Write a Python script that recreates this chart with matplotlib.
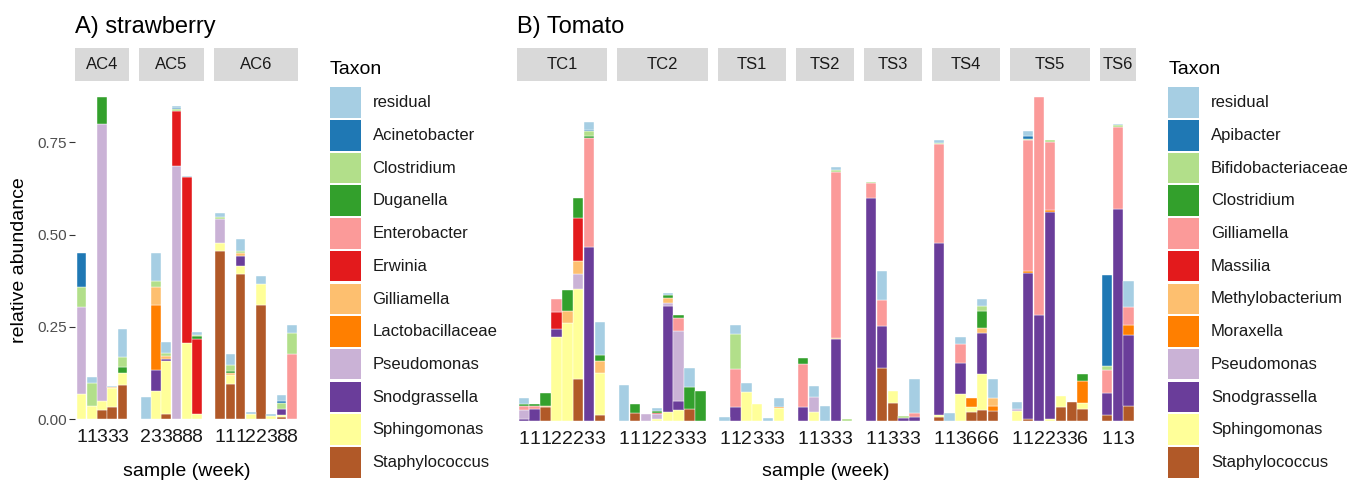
import numpy as np
import matplotlib.pyplot as plt
from matplotlib.patches import Rectangle

plt.rcParams['font.family'] = ['Liberation Sans', 'DejaVu Sans']

# ColorBrewer "Paired", one colour per legend entry (top to bottom)
paired = ['#A6CEE3', '#1F78B4', '#B2DF8A', '#33A02C', '#FB9A99', '#E31A1C',
          '#FDBF6F', '#FF7F00', '#CAB2D6', '#6A3D9A', '#FFFF99', '#B15928']

# ---- strawberry ----
straw_sites = ['AC4', 'AC5', 'AC6']
straw_weeks = [[1, 1, 3, 3, 3], [2, 3, 3, 8, 8, 8], [1, 1, 1, 2, 2, 3, 8, 8]]
straw_taxa = ['residual', 'Acinetobacter', 'Clostridium', 'Duganella', 'Enterobacter',
              'Erwinia', 'Gilliamella', 'Lactobacillaceae', 'Pseudomonas',
              'Snodgrassella', 'Sphingomonas', 'Staphylococcus']
s_residual = [0, .015, 0, .004, .075,  .061, .077, .029, .005, .004, .009,  .011, .030, .032, .004, .023, .004, .016, .021]
s_acinetobacter = [.091, 0, 0, 0, 0,  0, 0, 0, .003, 0, 0,  0, 0, 0, 0, 0, 0, .004, 0]
s_clostridium = [.056, .063, 0, 0, .027,  0, .014, .009, .004, 0, .004,  .005, .018, .005, 0, 0, 0, .016, .057]
s_duganella = [0, 0, .074, 0, .018,  0, 0, 0, 0, 0, .007,  0, .005, 0, 0, 0, 0, 0, 0]
s_enterobacter = [0, 0, 0, 0, 0,  0, 0, 0, 0, 0, 0,  0, 0, 0, 0, 0, 0, 0, .176]
s_erwinia = [0, 0, 0, 0, 0,  0, 0, 0, .149, .450, .203,  0, 0, 0, 0, 0, 0, 0, 0]
s_gilliamella = [0, 0, 0, .002, 0,  0, .051, .006, 0, 0, 0,  0, .004, .009, .002, 0, 0, 0, 0]
s_lactobacillaceae = [0, 0, 0, 0, 0,  0, .176, 0, 0, 0, 0,  0, 0, 0, 0, 0, 0, 0, 0]
s_pseudomonas = [.234, 0, .750, 0, 0,  0, 0, 0, .687, 0, 0,  .065, 0, 0, 0, 0, 0, 0, 0]
s_snodgrassella = [0, 0, 0, 0, 0,  0, .057, .007, 0, 0, 0,  0, 0, .027, 0, 0, 0, .018, 0]
s_sphingomonas = [.069, .036, .025, .052, .032,  0, .075, .143, 0, .206, .014,  .023, .024, .020, .013, .058, .009, .005, 0]
s_staphylococcus = [0, 0, .024, .032, .092,  0, 0, .014, 0, 0, 0,  .455, .096, .394, 0, .308, 0, .005, 0]

# ---- tomato ----
tom_sites = ['TC1', 'TC2', 'TS1', 'TS2', 'TS3', 'TS4', 'TS5', 'TS6']
tom_weeks = [[1, 1, 1, 2, 2, 2, 3, 3], [1, 1, 1, 2, 2, 3, 3, 3], [1, 1, 2, 3, 3, 3],
             [1, 1, 3, 3, 3], [1, 1, 3, 3, 3], [1, 1, 3, 6, 6, 6],
             [1, 1, 2, 2, 3, 3, 6], [1, 1, 3]]
tom_taxa = ['residual', 'Apibacter', 'Bifidobacteriaceae', 'Clostridium', 'Gilliamella',
            'Massilia', 'Methylobacterium', 'Moraxella', 'Pseudomonas',
            'Snodgrassella', 'Sphingomonas', 'Staphylococcus']
t_residual = [.016, 0, 0, 0, 0, 0, .021, .091,  .097, 0, 0, .008, .005, 0, .052, 0,
              .011, .025, .024, 0, .008, .024,  0, .032, .041, .008, 0,  0, .079, 0, 0, .091,
              .009, .021, .019, 0, .019, .053,  .019, .014, 0, 0, 0, 0, 0,  0, .004, .071]
t_apibacter = [0, 0, 0, 0, 0, 0, .003, 0,  0, 0, 0, 0, 0, 0, 0, 0,
               0, 0, 0, 0, 0, 0,  0, 0, 0, 0, 0,  0, 0, 0, 0, 0,
               0, 0, 0, 0, 0, 0,  0, .007, 0, 0, 0, 0, 0,  .246, 0, 0]
t_bifido = [0, 0, 0, 0, 0, 0, .012, 0,  0, 0, 0, 0, 0, 0, 0, 0,
            0, .095, 0, 0, 0, 0,  0, 0, 0, .005, .006,  .004, 0, 0, .004, 0,
            .004, 0, 0, 0, .014, 0,  0, .004, 0, .005, 0, 0, 0,  .011, .006, 0]
t_clostridium = [.006, .005, .034, 0, .057, .056, .006, .015,  0, .024, 0, .005, .009, .009, .059, .081,
                 0, 0, 0, 0, 0, 0,  .016, 0, 0, 0, 0,  0, 0, 0, 0, 0,
                 0, 0, 0, 0, .048, 0,  0, 0, 0, 0, 0, 0, .018,  0, 0, 0]
t_gilliamella = [.011, .009, 0, .034, 0, 0, .297, 0,  0, 0, 0, 0, 0, .035, 0, 0,
                 0, .103, 0, 0, 0, 0,  .118, 0, 0, .450, 0,  .039, .071, 0, 0, .012,
                 .268, 0, .050, 0, 0, 0,  0, .354, .590, .184, 0, 0, 0,  .061, .220, .048]
t_massilia = [0, 0, 0, .047, 0, .115, 0, 0,  0, 0, 0, .005, 0, 0, 0, 0,
              0, 0, 0, 0, 0, 0,  0, 0, 0, 0, 0,  0, 0, 0, 0, 0,
              0, 0, 0, 0, 0, 0,  0, 0, 0, 0, 0, 0, 0,  0, 0, 0]
t_methylo = [0, 0, .004, 0, .032, .036, 0, .032,  0, 0, 0, 0, .014, 0, 0, 0,
             0, 0, 0, 0, 0, 0,  0, 0, 0, .003, 0,  0, 0, 0, 0, 0,
             0, 0, 0, 0, .013, .019,  0, 0, 0, 0, 0, 0, 0,  0, 0, 0]
t_moraxella = [0, 0, 0, 0, 0, 0, 0, 0,  0, 0, 0, 0, 0, 0, 0, 0,
               0, 0, 0, 0, 0, .004,  0, 0, 0, 0, 0,  0, 0, 0, 0, 0,
               0, 0, 0, .024, 0, .014,  0, .007, 0, .007, 0, 0, .061,  0, 0, .028]
t_pseudomonas = [.024, 0, 0, 0, 0, .042, 0, 0,  0, 0, .018, .013, .007, .189, 0, 0,
                 0, 0, 0, 0, 0, 0,  0, .040, 0, 0, 0,  0, 0, 0, 0, 0,
                 0, 0, 0, 0, 0, 0,  .005, 0, 0, 0, 0, 0, 0,  0, 0, 0]
t_snodgrassella = [.005, .033, 0, .020, 0, 0, .471, 0,  0, 0, 0, 0, .288, .024, 0, 0,
                   0, .037, 0, 0, 0, 0,  .037, 0, 0, .223, 0,  .606, .113, 0, .009, .011,
                   .467, 0, .085, 0, .111, 0,  0, .395, .288, .561, 0, 0, 0,  .062, .576, .191]
t_sphingomonas = [0, 0, 0, .229, .265, .244, 0, .116,  0, 0, 0, .005, .024, .030, 0, 0,
                  0, 0, .079, .047, 0, .035,  0, .024, 0, 0, 0,  0, 0, .032, 0, 0,
                  .003, 0, .073, .014, .097, 0,  .028, 0, 0, .005, .029, 0, .015,  0, 0, 0]
t_staphylococcus = [0, 0, .037, 0, 0, .113, 0, .015,  0, .021, 0, 0, 0, 0, .032, 0,
                    0, 0, 0, 0, 0, 0,  0, 0, 0, 0, 0,  0, .145, .048, 0, 0,
                    .012, 0, 0, .024, .030, .028,  0, .005, 0, 0, .039, .051, .033,  .015, 0, .041]

straw_values = [s_residual, s_acinetobacter, s_clostridium, s_duganella, s_enterobacter,
                s_erwinia, s_gilliamella, s_lactobacillaceae, s_pseudomonas,
                s_snodgrassella, s_sphingomonas, s_staphylococcus]
tom_values = [t_residual, t_apibacter, t_bifido, t_clostridium, t_gilliamella,
              t_massilia, t_methylo, t_moraxella, t_pseudomonas,
              t_snodgrassella, t_sphingomonas, t_staphylococcus]

W, H = 1347, 484
fig = plt.figure(figsize=(W / 100, H / 100), dpi=100)

overlay = fig.add_axes([0, 0, 1, 1])
overlay.set_xlim(0, W)
overlay.set_ylim(H, 0)
overlay.axis('off')


def box(x0, y0, x1, y1):
    # axes placed by pixel edges, y measured from the top
    return fig.add_axes([x0 / W, 1 - y1 / H, (x1 - x0) / W, (y1 - y0) / H])


PX_PER_UNIT = 368.8
TOP = 81
GAP = 10


def facet_plot(sites, weeks, values, x_left, x_right, show_y):
    values = np.array(values)
    ymax = values.sum(axis=0).max() * 1.05
    bottom_px = TOP + ymax * PX_PER_UNIT
    counts = [len(w) for w in weeks]
    unit = (x_right - x_left - GAP * (len(sites) - 1)) / (sum(counts) + 0.3 * len(sites))
    x = x_left
    start = 0
    for k, (site, wk) in enumerate(zip(sites, weeks)):
        n = len(wk)
        w = unit * (n + 0.3)
        ax = box(x, TOP, x + w, bottom_px)
        pos = np.arange(n)
        cum = np.zeros(n)
        # stack from the last legend entry upwards
        for i in range(len(values) - 1, -1, -1):
            v = values[i, start:start + n]
            m = v > 0
            ax.bar(pos[m], v[m], bottom=cum[m], width=0.95, color=paired[i],
                   edgecolor='white', linewidth=0.3)
            cum += v
        ax.set_xlim(-0.65, n - 0.35)
        ax.set_ylim(0, ymax)
        ax.set_xticks(pos)
        ax.set_xticklabels([str(d) for d in wk], fontsize=14, color='#1A1A1A')
        ax.tick_params(axis='x', length=0, pad=7)
        if show_y and k == 0:
            ax.set_yticks([0, 0.25, 0.5, 0.75])
            ax.set_yticklabels(['0.00', '0.25', '0.50', '0.75'])
            ax.tick_params(axis='y', length=4, width=0.8, color='#333333', pad=2,
                           labelsize=11, labelcolor='#4D4D4D')
        else:
            ax.set_yticks([])
        for sp in ax.spines.values():
            sp.set_visible(False)

        sax = box(x, 48, x + w, TOP)
        sax.set_facecolor('#D9D9D9')
        sax.set_xticks([])
        sax.set_yticks([])
        for sp in sax.spines.values():
            sp.set_visible(False)
        sax.text(0.5, 0.5, site, ha='center', va='center', fontsize=12,
                 color='#1A1A1A', transform=sax.transAxes)

        x += w + GAP
        start += n


def legend(x0, taxa):
    overlay.text(x0, 74, 'Taxon', fontsize=14, ha='left', va='baseline')
    for i, name in enumerate(taxa):
        y = 87.3 + i * 32.7
        overlay.add_patch(Rectangle((x0, y), 30.5, 30.5, facecolor=paired[i],
                                    edgecolor='none'))
        overlay.text(x0 + 42.5, y + 15.5, name, fontsize=12, ha='left', va='center',
                     color='#1A1A1A')


facet_plot(straw_sites, straw_weeks, straw_values, 75, 298.3, True)
facet_plot(tom_sites, tom_weeks, tom_values, 516.7, 1135.7, False)

overlay.text(75, 33, 'A) strawberry', fontsize=17, ha='left', va='baseline')
overlay.text(516.7, 33, 'B) Tomato', fontsize=17, ha='left', va='baseline')
overlay.text(20, 260, 'relative abundance', fontsize=14, rotation=90,
             ha='center', va='center')
overlay.text(186.7, 472, 'sample (week)', fontsize=14, ha='center', va='center')
overlay.text(826.2, 472, 'sample (week)', fontsize=14, ha='center', va='center')

legend(330, straw_taxa)
legend(1168.3, tom_taxa)

fig.savefig('out.png', dpi=100)
